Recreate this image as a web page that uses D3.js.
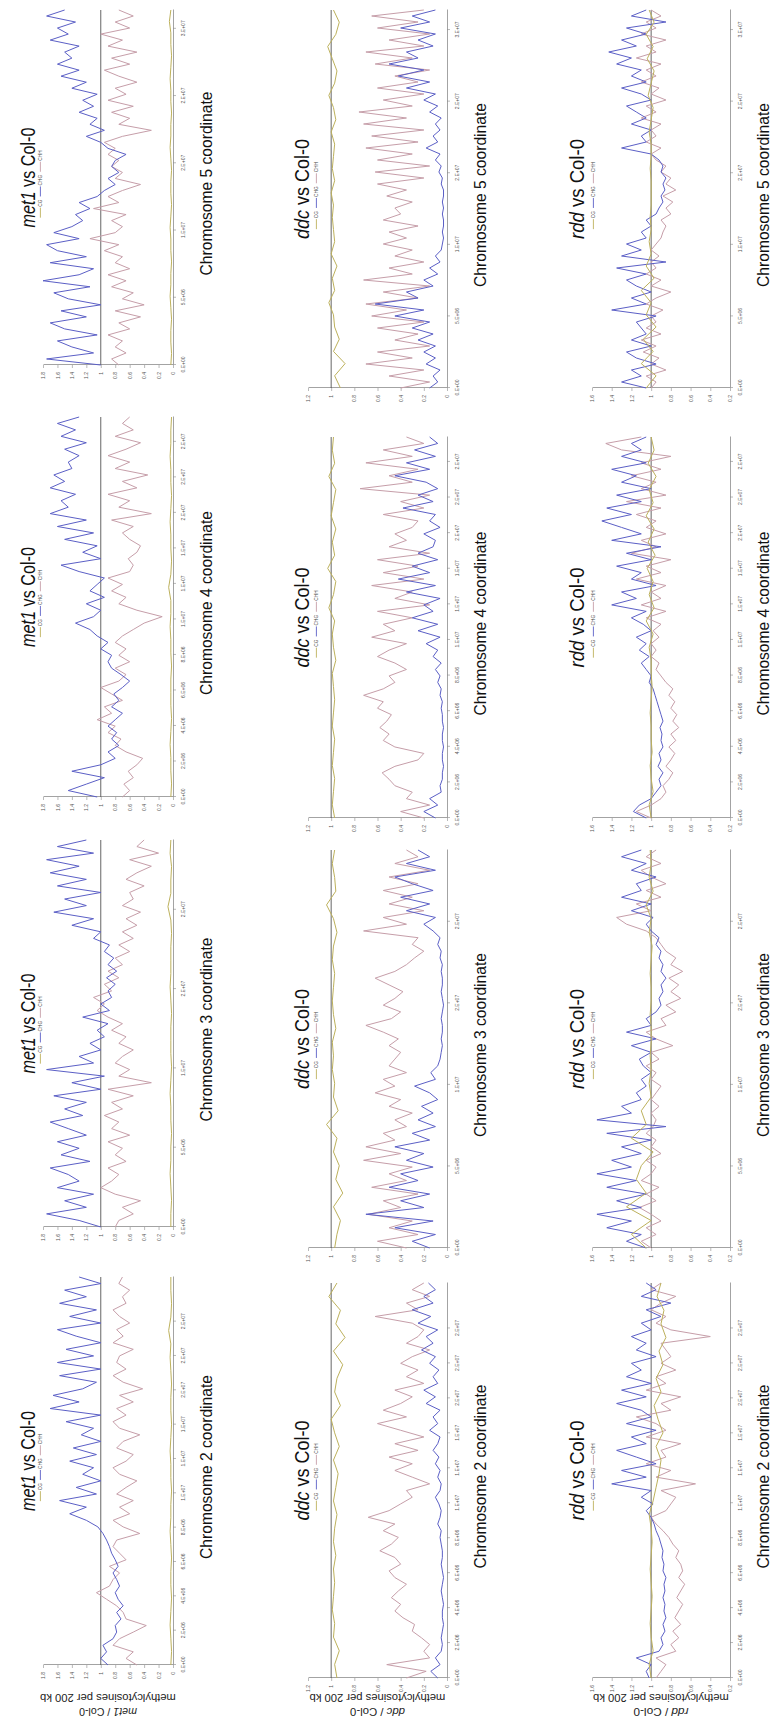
<!DOCTYPE html>
<html>
<head>
<meta charset="utf-8">
<script src="https://cdn.jsdelivr.net/npm/d3@7"></script>
<style>
  body { margin: 0; background: #fff; }
  svg { display: block; }
  text { font-family: "Liberation Sans", Arial, sans-serif; }
</style>
</head>
<body>
<div id="chart"></div>
<script>
// ---- data: methylation ratio (mutant / Col-0) per 200 kb ----
const mutants = ["met1", "ddc", "rdd"];
const chromosomes = ["2", "3", "4", "5"];
const contexts = ["CG", "CHG", "CHH"];

const binCount = { 2: 114, 3: 123, 4: 108, 5: 133 };
const binStep = { 2: 10, 3: 25, 4: 10, 5: 25 };
const chr2Ticks = ["0.E+00", "2.E+06", "4.E+06", "6.E+06", "8.E+06", "1.E+07", "1.E+07", "1.E+07", "2.E+07", "2.E+07", "2.E+07"];
const chr3Ticks = ["0.E+00", "5.E+06", "1.E+07", "2.E+07", "2.E+07"];
const chr4Ticks = ["0.E+00", "2.E+06", "4.E+06", "6.E+06", "8.E+06", "1.E+07", "1.E+07", "1.E+07", "2.E+07", "2.E+07", "2.E+07"];
const chr5Ticks = ["0.E+00", "5.E+06", "1.E+07", "2.E+07", "2.E+07", "3.E+07"];

const met1ValueTicks = [0, 0.2, 0.4, 0.6, 0.8, 1, 1.2, 1.4, 1.6, 1.8];
const ddcValueTicks = [0, 0.2, 0.4, 0.6, 0.8, 1, 1.2];
const rddValueTicks = [0.2, 0.4, 0.6, 0.8, 1, 1.2, 1.4, 1.6];

const met1Chr2CG = [0.03,0.02,0.03,0.04,0.03,0.02,0.03,0.03,0.02,0.03,0.04,0.03,0.03,0.02,0.03,0.03,0.04,0.03,0.02,0.03,0.03,0.02,0.03,0.04,0.03,0.06,0.03,0.02,0.03,0.03];
const met1Chr2CHG = [0.9,1.0,0.92,0.97,0.83,0.78,0.8,0.72,0.78,0.69,0.76,0.8,0.74,0.78,0.83,0.76,0.8,0.85,0.88,0.92,0.97,1.04,1.2,1.43,1.2,1.57,1.06,1.34,1.0,1.25,1.1,1.43,1.06,1.38,1.0,1.27,1.1,1.48,1.0,1.7,1.3,1.66,1.25,1.06,1.57,1.0,1.6,1.1,1.48,1.0,1.34,1.6,1.0,1.43,1.06,1.57,1.2,1.5,1.0,1.3];
const met1Chr2CHH = [0.5,0.65,0.55,0.83,0.74,0.55,0.37,0.65,0.69,0.78,0.92,1.06,0.88,0.83,0.74,0.88,0.65,0.74,0.83,0.78,0.46,0.69,0.83,0.6,0.74,0.55,0.78,0.65,0.5,0.74,0.83,0.65,0.55,0.78,0.69,0.46,0.74,0.83,0.65,0.78,0.55,0.74,0.42,0.69,0.83,0.65,0.78,0.74,0.55,0.83,0.69,0.78,0.6,0.74,0.83,0.65,0.7,0.6,0.75,0.7];

const met1Chr3CG = [0.03,0.03,0.02,0.03,0.04,0.03,0.03,0.02,0.03,0.03,0.04,0.03,0.02,0.03,0.03,0.03,0.02,0.03,0.04,0.03,0.03,0.03,0.02,0.03,0.07,0.03,0.03,0.02,0.04,0.03];
const met1Chr3CHG = [1.0,1.3,1.75,1.2,1.5,1.1,1.6,1.3,1.45,1.7,1.15,1.55,1.3,1.6,1.2,1.45,1.7,1.25,1.5,1.2,1.65,1.0,1.4,0.95,1.75,1.1,1.3,1.0,1.15,0.95,1.05,0.9,1.25,0.88,1.0,0.85,0.9,0.8,0.92,0.78,0.9,0.82,0.95,0.88,1.1,1.0,1.4,1.1,1.65,1.2,1.5,1.0,1.6,1.2,1.7,1.3,1.75,1.1,1.6,1.2];
const met1Chr3CHH = [0.8,0.75,0.55,0.7,0.45,0.8,1.0,0.85,0.75,0.9,0.65,0.8,0.7,0.9,0.6,0.85,0.75,0.95,0.7,0.85,0.55,0.9,0.3,0.75,0.6,0.8,0.7,0.55,0.75,0.65,0.85,0.7,0.9,1.05,0.95,1.1,0.85,0.95,0.75,0.9,0.7,0.8,0.6,0.75,0.55,0.7,0.5,0.65,0.45,0.7,0.55,0.6,0.4,0.65,0.5,0.3,0.6,0.2,0.5,0.4];

const met1Chr4CG = [0.03,0.02,0.03,0.03,0.04,0.03,0.02,0.03,0.03,0.03,0.02,0.03,0.03,0.04,0.03,0.03,0.06,0.03,0.02,0.03,0.03,0.04,0.03,0.02,0.03,0.03,0.04,0.03,0.03,0.02];
const met1Chr4CHG = [1.05,1.45,1.2,0.95,1.4,1.0,0.8,0.9,0.75,0.85,0.78,0.9,0.8,0.7,0.85,0.75,0.82,0.7,0.6,0.72,0.85,0.9,0.85,1.0,0.9,1.05,1.15,1.35,1.1,1.0,1.2,0.95,1.15,1.05,0.95,1.3,1.55,1.0,1.25,1.05,1.5,1.1,1.6,1.2,1.7,1.45,1.55,1.35,1.7,1.5,1.65,1.4,1.45,1.3,1.5,1.2,1.55,1.35,1.6,1.3];
const met1Chr4CHH = [0.7,0.6,0.68,0.55,0.62,0.5,0.42,0.65,0.8,0.72,0.9,0.8,1.05,0.85,0.95,0.7,0.85,1.0,0.75,0.65,0.8,0.6,0.75,0.65,0.8,0.7,0.55,0.4,0.15,0.5,0.75,0.65,0.85,0.7,0.9,0.6,0.55,0.62,0.5,0.45,0.6,0.7,0.55,0.85,0.3,0.75,0.6,0.9,0.5,0.7,0.35,0.8,0.6,0.9,0.65,0.45,0.8,0.55,0.7,0.6];

const met1Chr5CG = [0.03,0.02,0.03,0.03,0.02,0.03,0.04,0.03,0.03,0.02,0.03,0.03,0.04,0.03,0.02,0.03,0.03,0.02,0.03,0.04,0.03,0.03,0.02,0.03,0.03,0.04,0.03,0.02,0.03,0.03,0.05,0.03];
const met1Chr5CHG = [1.0,1.75,1.1,1.4,1.6,1.05,1.5,1.7,1.2,1.55,1.0,1.45,1.65,1.15,1.8,1.3,1.1,1.7,1.2,1.6,1.75,1.3,1.65,1.4,1.25,1.35,1.15,1.3,1.05,0.95,0.8,0.9,0.75,0.85,0.8,0.65,0.9,1.0,1.2,0.95,1.15,1.05,1.3,1.1,1.25,1.05,1.4,1.2,1.55,1.3,1.6,1.4,1.5,1.3,1.7,1.45,1.6,1.35,1.75,1.5];
const met1Chr5CHH = [0.75,0.85,0.65,0.8,0.7,0.9,0.6,0.75,0.45,0.8,0.4,0.7,0.55,0.85,0.65,0.9,0.6,0.8,0.7,0.95,0.75,1.15,0.8,0.7,0.85,0.65,1.1,0.75,0.9,0.7,0.45,0.8,0.7,0.85,0.75,0.9,0.8,0.95,0.7,0.3,0.75,0.6,0.85,0.55,0.9,0.65,0.8,0.5,0.75,0.95,0.6,0.85,0.5,0.9,0.7,1.0,0.6,0.8,0.55,0.75];

const ddcChr2CG = [0.95,0.97,0.93,0.98,0.97,0.99,0.98,0.97,0.98,0.96,0.98,0.97,0.95,0.98,0.96,0.94,0.98,0.93,0.97,1.0,0.92,0.97,0.95,0.9,0.98,0.88,0.96,0.92,1.02,0.95];
const ddcChr2CHG = [0.08,0.14,0.06,0.1,0.05,0.04,0.05,0.04,0.03,0.04,0.04,0.03,0.04,0.05,0.04,0.03,0.04,0.05,0.04,0.04,0.05,0.06,0.05,0.08,0.06,0.05,0.07,0.1,0.06,0.05,0.08,0.06,0.1,0.07,0.12,0.08,0.06,0.15,0.08,0.12,0.06,0.18,0.1,0.2,0.08,0.12,0.07,0.15,0.1,0.22,0.12,0.18,0.08,0.25,0.14,0.3,0.12,0.2,0.1,0.16];
const ddcChr2CHH = [0.35,0.18,0.52,0.15,0.2,0.15,0.22,0.3,0.28,0.38,0.45,0.4,0.48,0.42,0.35,0.45,0.5,0.4,0.45,0.58,0.48,0.42,0.55,0.45,0.68,0.5,0.4,0.3,0.35,0.15,0.3,0.45,0.3,0.5,0.25,0.45,0.2,0.4,0.6,0.35,0.55,0.4,0.3,0.45,0.2,0.35,0.25,0.4,0.3,0.15,0.35,0.25,0.2,0.3,0.62,0.25,0.35,0.15,0.3,0.2];

const ddcChr3CG = [0.97,0.95,0.92,0.98,0.9,0.96,0.93,0.98,0.95,1.04,0.94,0.98,0.97,0.99,0.98,0.99,0.96,0.98,0.99,0.98,0.97,0.99,0.98,0.95,0.98,1.04,0.96,0.97,0.99,0.97];
const ddcChr3CHG = [0.15,0.3,0.1,0.45,0.12,0.7,0.2,0.4,0.15,0.5,0.25,0.4,0.12,0.35,0.2,0.45,0.15,0.3,0.1,0.25,0.12,0.22,0.08,0.15,0.28,0.1,0.14,0.08,0.06,0.05,0.04,0.05,0.04,0.04,0.05,0.04,0.03,0.04,0.05,0.04,0.04,0.05,0.04,0.06,0.05,0.08,0.06,0.12,0.2,0.1,0.35,0.15,0.4,0.12,0.3,0.45,0.1,0.35,0.15,0.25];
const ddcChr3CHH = [0.35,0.6,0.25,0.5,0.3,0.68,0.4,0.55,0.25,0.65,0.35,0.5,0.3,0.72,0.4,0.7,0.45,0.55,0.35,0.45,0.3,0.5,0.4,0.62,0.45,0.55,0.35,0.5,0.45,0.4,0.5,0.42,0.55,0.7,0.48,0.4,0.55,0.45,0.38,0.5,0.62,0.45,0.35,0.28,0.2,0.3,0.25,0.72,0.35,0.55,0.2,0.5,0.3,0.55,0.25,0.5,0.15,0.45,0.25,0.35];

const ddcChr4CG = [0.97,0.99,0.98,0.97,0.99,0.98,0.97,0.99,0.98,0.97,0.98,0.99,0.96,0.98,0.99,0.97,1.02,0.98,0.96,1.03,0.97,0.99,0.96,1.0,0.98,0.96,1.02,0.97,0.99,0.98];
const ddcChr4CHG = [0.1,0.2,0.08,0.15,0.05,0.06,0.04,0.04,0.03,0.04,0.04,0.03,0.04,0.04,0.03,0.04,0.04,0.05,0.04,0.06,0.05,0.08,0.06,0.1,0.05,0.12,0.08,0.18,0.06,0.25,0.08,0.3,0.12,0.2,0.06,0.35,0.1,0.42,0.15,0.3,0.08,0.25,0.12,0.1,0.2,0.06,0.15,0.1,0.38,0.12,0.25,0.08,0.18,0.45,0.15,0.35,0.1,0.28,0.08,0.15];
const ddcChr4CHH = [0.2,0.4,0.15,0.35,0.3,0.45,0.5,0.56,0.45,0.25,0.2,0.45,0.55,0.5,0.58,0.52,0.48,0.6,0.55,0.72,0.55,0.45,0.5,0.35,0.45,0.6,0.5,0.35,0.65,0.45,0.55,0.3,0.6,0.15,0.45,0.3,0.65,0.2,0.55,0.25,0.6,0.15,0.5,0.35,0.45,0.3,0.25,0.55,0.2,0.4,0.15,0.75,0.3,0.5,0.25,0.7,0.3,0.55,0.2,0.35];

const ddcChr5CG = [0.92,0.97,0.88,0.98,0.93,0.97,0.98,1.02,0.97,0.99,0.95,1.0,0.97,0.98,0.99,0.98,1.0,0.97,0.99,0.98,0.97,1.0,0.96,0.98,1.02,0.97,0.95,0.99,1.03,0.96,0.93,0.98];
const ddcChr5CHG = [0.15,0.08,0.12,0.06,0.18,0.1,0.2,0.1,0.25,0.12,0.3,0.15,0.45,0.2,0.62,0.25,0.35,0.12,0.2,0.08,0.15,0.06,0.1,0.05,0.04,0.03,0.04,0.03,0.03,0.04,0.03,0.04,0.03,0.03,0.05,0.04,0.07,0.05,0.1,0.06,0.18,0.08,0.12,0.06,0.1,0.05,0.15,0.08,0.2,0.1,0.35,0.15,0.42,0.2,0.5,0.25,0.35,0.12,0.25,0.1,0.4,0.15,0.3,0.1];
const ddcChr5CHH = [0.4,0.15,0.5,0.2,0.7,0.3,0.6,0.15,0.45,0.25,0.6,0.2,0.65,0.35,0.7,0.25,0.55,0.15,0.72,0.3,0.5,0.2,0.45,0.3,0.55,0.35,0.5,0.25,0.55,0.4,0.45,0.3,0.52,0.35,0.6,0.2,0.62,0.15,0.6,0.3,0.7,0.25,0.65,0.2,0.72,0.35,0.76,0.3,0.55,0.2,0.6,0.25,0.45,0.15,0.62,0.3,0.7,0.2,0.5,0.15,0.6,0.25,0.65,0.2];

const rddChr2CG = [1.0,1.02,0.98,1.0,1.01,1.0,0.99,1.0,1.01,1.0,0.99,1.0,1.02,0.98,0.95,0.92,0.9,0.95,0.88,0.93,0.97,0.9,0.95,0.88,0.92,0.85,0.9,0.87,0.94,0.9];
const rddChr2CHG = [1.02,1.05,1.0,1.15,0.92,0.88,0.9,0.86,0.88,0.85,0.87,0.86,0.88,0.86,0.87,0.85,0.88,0.87,0.89,0.88,0.9,0.92,0.95,0.97,1.0,1.05,0.98,1.1,1.0,1.4,1.05,1.3,0.95,1.15,1.35,1.05,1.2,0.95,1.25,1.0,1.1,1.35,1.05,1.3,1.0,1.25,1.1,1.2,0.95,1.15,1.05,1.2,1.0,1.1,0.9,1.05,0.8,1.1,0.95,1.05];
const rddChr2CHH = [0.95,0.9,0.85,0.95,0.75,0.8,0.72,0.78,0.7,0.76,0.72,0.68,0.74,0.7,0.66,0.72,0.68,0.7,0.75,0.72,0.78,0.82,0.88,0.95,1.0,0.85,0.8,0.75,0.9,0.55,0.95,0.8,1.05,0.85,0.9,0.7,1.05,0.85,0.95,1.15,0.8,0.9,0.7,1.05,0.85,0.95,0.75,0.9,0.8,0.85,0.9,0.4,0.8,0.95,0.85,1.0,0.9,0.75,1.0,0.9];

const rddChr3CG = [1.05,1.2,1.0,1.25,1.05,1.15,1.1,0.98,1.2,1.05,1.1,1.0,1.02,1.0,1.01,1.0,1.0,1.01,1.0,1.0,1.01,1.0,0.99,1.02,1.0,1.05,0.98,1.02,1.0,1.01];
const rddChr3CHG = [1.05,1.25,1.1,1.45,1.2,1.55,1.1,1.35,1.05,1.45,1.15,1.55,1.2,1.4,1.1,1.3,1.0,1.45,0.85,1.55,1.2,1.3,1.1,1.15,1.05,1.1,1.0,1.08,1.12,1.0,1.2,0.95,1.25,1.0,1.05,0.95,0.9,0.92,0.88,0.9,0.85,0.9,0.88,0.92,0.9,0.95,0.92,1.0,1.05,0.98,1.2,1.0,1.3,1.1,1.15,0.95,1.2,1.05,1.3,1.1];
const rddChr3CHH = [1.0,1.1,0.95,1.05,0.9,1.0,1.12,0.95,1.05,0.92,1.1,1.0,0.95,1.05,0.9,1.0,0.95,1.05,0.98,0.95,1.0,0.92,1.0,0.95,0.9,1.0,0.95,1.05,0.92,1.0,0.78,0.95,1.05,0.85,0.9,0.75,0.85,0.7,0.8,0.72,0.82,0.68,0.8,0.75,0.85,0.9,0.95,1.05,1.25,1.35,1.0,1.15,0.9,1.05,0.85,1.0,1.1,0.9,1.05,0.95];

const rddChr4CG = [1.0,1.02,0.98,1.0,1.01,0.99,1.0,1.0,1.01,1.0,0.99,1.0,1.0,1.02,0.98,1.05,0.97,1.02,0.98,1.04,0.96,1.03,0.97,1.05,0.98,1.02,0.95,1.03,0.97,1.0];
const rddChr4CHG = [1.05,1.18,1.12,1.0,0.95,0.9,0.92,0.88,0.93,0.9,0.92,0.88,0.9,0.89,0.91,0.88,0.9,0.92,0.94,0.96,0.98,1.02,1.0,1.05,1.1,1.02,1.12,1.05,1.15,1.0,1.08,1.2,1.05,1.4,1.15,1.3,0.95,1.2,1.1,1.35,1.0,1.25,0.9,1.4,1.1,1.3,1.5,1.2,1.45,1.1,1.35,1.0,1.3,1.15,1.4,1.05,1.3,1.1,1.2,1.05];
const rddChr4CHH = [1.0,1.15,1.0,0.9,0.85,0.88,0.82,0.78,0.85,0.8,0.76,0.82,0.75,0.8,0.72,0.78,0.74,0.8,0.76,0.82,0.78,0.85,0.9,0.95,0.92,1.0,0.95,1.0,0.92,0.98,0.9,1.05,0.85,1.1,0.9,1.0,0.85,1.15,0.9,1.05,0.8,1.2,0.95,1.1,0.85,1.05,0.95,1.15,0.9,1.25,0.85,1.1,0.95,1.2,0.9,1.1,0.8,1.3,1.46,1.1];

const rddChr5CG = [1.05,0.95,1.1,0.98,1.08,0.95,1.05,1.0,1.1,0.97,1.05,1.0,1.02,1.0,1.01,1.0,1.0,1.0,1.01,1.0,1.0,1.02,1.0,0.98,1.03,1.0,0.97,1.04,0.98,1.05,0.97,1.02];
const rddChr5CHG = [1.05,1.3,1.1,1.2,0.95,1.15,1.25,1.0,1.2,1.05,1.1,1.15,0.95,1.4,1.05,1.2,1.0,1.15,1.25,1.05,1.35,0.85,1.3,1.1,1.25,1.05,1.1,1.0,1.05,0.95,0.92,0.88,0.9,0.86,0.88,0.85,0.9,0.88,0.92,1.0,1.3,1.05,1.1,1.0,1.2,1.05,1.15,1.25,1.0,1.1,1.3,1.05,1.2,1.1,1.35,1.2,1.43,1.15,1.3,1.05,1.25,0.85,1.2,1.05];
const rddChr5CHH = [1.0,0.95,1.05,0.85,1.0,0.92,1.08,0.95,1.1,0.9,1.05,0.95,1.0,0.88,1.05,0.95,0.8,1.0,0.9,1.05,0.95,1.0,0.92,1.0,0.95,0.9,0.88,0.85,0.9,0.8,0.85,0.78,0.88,0.75,0.85,0.8,0.9,0.85,0.95,1.0,0.9,1.05,0.95,1.0,0.9,1.1,0.95,1.05,0.85,1.0,0.92,1.1,0.95,1.05,0.9,1.15,0.95,1.05,0.85,1.1,0.95,1.05,0.9,1.0];

// ---- assembly ----
const chromTicks = { 2: chr2Ticks, 3: chr3Ticks, 4: chr4Ticks, 5: chr5Ticks };
const valueDomains = { met1: [0, 1.8], ddc: [0, 1.2], rdd: [0.2, 1.6] };
const valueTicks = { met1: met1ValueTicks, ddc: ddcValueTicks, rdd: rddValueTicks };
const series = {
  met1: {
    2: { CG: met1Chr2CG, CHG: met1Chr2CHG, CHH: met1Chr2CHH },
    3: { CG: met1Chr3CG, CHG: met1Chr3CHG, CHH: met1Chr3CHH },
    4: { CG: met1Chr4CG, CHG: met1Chr4CHG, CHH: met1Chr4CHH },
    5: { CG: met1Chr5CG, CHG: met1Chr5CHG, CHH: met1Chr5CHH }
  },
  ddc: {
    2: { CG: ddcChr2CG, CHG: ddcChr2CHG, CHH: ddcChr2CHH },
    3: { CG: ddcChr3CG, CHG: ddcChr3CHG, CHH: ddcChr3CHH },
    4: { CG: ddcChr4CG, CHG: ddcChr4CHG, CHH: ddcChr4CHH },
    5: { CG: ddcChr5CG, CHG: ddcChr5CHG, CHH: ddcChr5CHH }
  },
  rdd: {
    2: { CG: rddChr2CG, CHG: rddChr2CHG, CHH: rddChr2CHH },
    3: { CG: rddChr3CG, CHG: rddChr3CHG, CHH: rddChr3CHH },
    4: { CG: rddChr4CG, CHG: rddChr4CHG, CHH: rddChr4CHH },
    5: { CG: rddChr5CG, CHG: rddChr5CHG, CHH: rddChr5CHH }
  }
};

const colors = { CG: "#bdb15c", CHG: "#5b5fc6", CHH: "#c69ea9" };

// layout in the unrotated figure (1726 wide, 772 tall); the whole figure is turned 90deg afterwards
const FIG_W = 1726;
const rowLayout = {
  met1: { top: 43, bottom: 173, title: 35, legend: 42, cols: [[61, 449], [499, 886], [929, 1309], [1361, 1716]] },
  ddc:  { top: 308, bottom: 447, title: 309, legend: 318, cols: [[48, 443], [478, 876], [908, 1289], [1338, 1716]] },
  rdd:  { top: 592, bottom: 730, title: 584, legend: 595, cols: [[48, 443], [478, 876], [908, 1289], [1338, 1716]] }
};

const svg = d3.select("#chart").append("svg")
  .attr("width", 772)
  .attr("height", 1726);

const fig = svg.append("g")
  .attr("transform", `translate(0,${FIG_W}) rotate(-90)`);

// squeeze a text node horizontally to a wanted length
function fitText(t, cx, cy, target, rotated) {
  const w = t.node().getComputedTextLength();
  t.attr("transform", `translate(${cx},${cy})${rotated ? " rotate(-90)" : ""} scale(${target / w},1)`);
}

function styleAxis(g) {
  g.attr("font-size", 5).attr("font-family", "'Liberation Sans', Arial, sans-serif");
  g.selectAll(".domain").attr("stroke", "#8c8c8c").attr("stroke-width", 0.8);
  g.selectAll(".tick line").attr("stroke", "#8c8c8c").attr("stroke-width", 0.6);
  g.selectAll(".tick text").attr("fill", "#555");
}

mutants.forEach(m => {
  const L = rowLayout[m];
  const y = d3.scaleLinear().domain(valueDomains[m]).range([L.bottom, L.top]);

  chromosomes.forEach((c, ci) => {
    const [x0, x1] = L.cols[ci];
    const n = binCount[c];
    const x = d3.scaleLinear().domain([0, n - 1]).range([x0, x1]);
    const cx = (x0 + x1) / 2;
    const g = fig.append("g");

    // value axis (left side of each panel)
    g.append("g")
      .attr("transform", `translate(${x0},0)`)
      .call(d3.axisLeft(y).tickValues(valueTicks[m]).tickFormat(d3.format("~g"))
        .tickSize(3).tickSizeOuter(0).tickPadding(4))
      .call(styleAxis);

    // chromosome coordinate axis
    const labels = chromTicks[c];
    g.append("g")
      .attr("transform", `translate(0,${L.bottom})`)
      .call(d3.axisBottom(x).tickValues(labels.map((_, k) => k * binStep[c]))
        .tickFormat((d, k) => labels[k]).tickSize(3).tickSizeOuter(0).tickPadding(5))
      .call(styleAxis);

    // reference line at ratio 1
    g.append("line")
      .attr("x1", x0).attr("x2", x1)
      .attr("y1", y(1)).attr("y2", y(1))
      .attr("stroke", "#555").attr("stroke-width", 0.9);

    // CHH under CHG under CG
    ["CHH", "CHG", "CG"].forEach(k => {
      const arr = series[m][c][k];
      const line = d3.line()
        .x((d, i) => x(i * (n - 1) / (arr.length - 1)))
        .y(d => y(d));
      g.append("path")
        .datum(arr)
        .attr("d", line)
        .attr("fill", "none")
        .attr("stroke", colors[k])
        .attr("stroke-width", 1)
        .attr("stroke-linejoin", "round");
    });

    // title
    const title = g.append("text")
      .attr("text-anchor", "middle")
      .attr("font-size", 21)
      .attr("fill", "#111");
    title.append("tspan").attr("font-style", "italic").text(m);
    title.append("tspan").text(" vs Col-0");
    fitText(title, cx + 10, L.title, 100);

    // legend
    const lg = g.append("g").attr("font-size", 4.8).attr("fill", "#444");
    let pos = 0;
    contexts.forEach(k => {
      lg.append("line")
        .attr("x1", pos).attr("x2", pos + 10)
        .attr("y1", -1.6).attr("y2", -1.6)
        .attr("stroke", colors[k]).attr("stroke-width", 0.9);
      const t = lg.append("text").attr("x", pos + 11).text(k);
      pos += 11 + t.node().getComputedTextLength() + 3;
    });
    lg.attr("transform", `translate(${cx + 5 - pos / 2},${L.legend})`);

    // chromosome label
    const xl = g.append("text")
      .attr("text-anchor", "middle")
      .attr("font-size", 17)
      .attr("fill", "#111")
      .text(`Chromosome ${c} coordinate`);
    fitText(xl, cx + 4, L.bottom + 39, 184);

    // y title only on the chromosome 2 panels
    if (c === "2") {
      const cy = (L.top + L.bottom) / 2;
      const y1 = g.append("text")
        .attr("text-anchor", "middle")
        .attr("font-size", 10)
        .attr("fill", "#222");
      y1.append("tspan").attr("font-style", "italic").text(m);
      y1.append("tspan").text(" / Col-0");
      fitText(y1, 18, cy, m === "met1" ? 58 : 55, true);

      const y2 = g.append("text")
        .attr("text-anchor", "middle")
        .attr("font-size", 10)
        .attr("fill", "#222")
        .text("methylcytosines per 200 kb");
      fitText(y2, 32, cy, 136, true);
    }
  });
});
</script>
</body>
</html>
